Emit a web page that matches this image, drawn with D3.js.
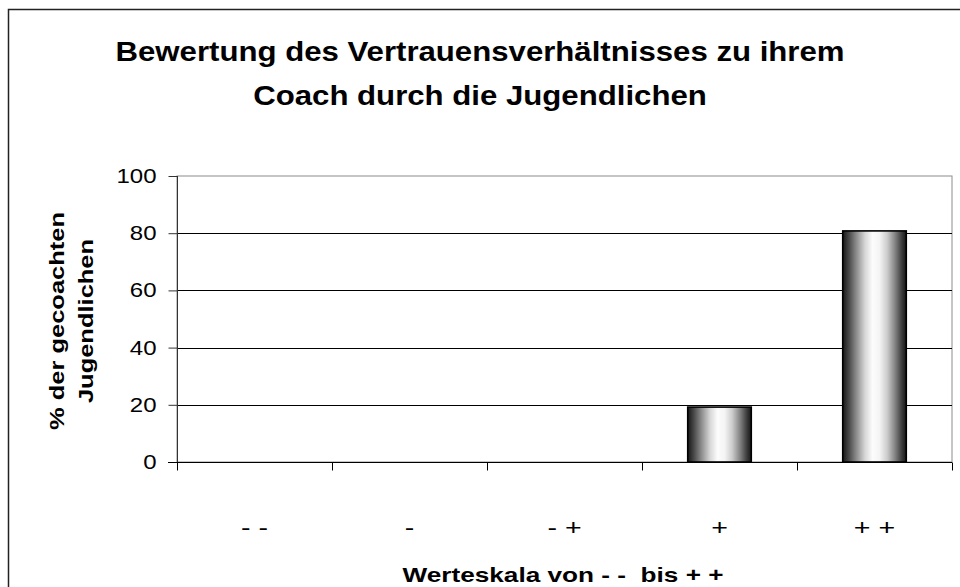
<!DOCTYPE html>
<html>
<head>
<meta charset="utf-8">
<script src="https://cdn.jsdelivr.net/npm/d3@7"></script>
<style>
  body { margin: 0; background: #fff; }
  text { font-family: Arial, "Liberation Sans", sans-serif; fill: #000; }
</style>
</head>
<body>
<div id="chart"></div>
<script>
// categories and values (percent of coached youths)
var categories = ["- -", "-", "- +", "+", "+ +"];
var values = [0, 0, 0, 19.2, 80.8];
var yTicks = [0, 20, 40, 60, 80, 100];
var titleLines = ["Bewertung des Vertrauensverhältnisses zu ihrem", "Coach durch die Jugendlichen"];
var yTitleLines = ["% der gecoachten", "Jugendlichen"];
var xTitle = "Werteskala von - -  bis + +";

var width = 960, height = 587;
var plot = { left: 177, right: 952, top: 176, bottom: 462 };

var svg = d3.select("#chart").append("svg")
    .attr("width", width)
    .attr("height", height);

// widen a text node horizontally around its anchor
function widen(sel, k) {
    sel.each(function() {
        var len = this.getComputedTextLength();
        d3.select(this)
            .attr("textLength", len * k)
            .attr("lengthAdjust", "spacingAndGlyphs");
    });
}

// cylinder-like shading for the bars
var grad = svg.append("defs").append("linearGradient")
    .attr("id", "barGrad")
    .attr("x1", "0%").attr("x2", "100%")
    .attr("y1", "0%").attr("y2", "0%");
[[0, "#161616"], [0.1, "#4a4a4a"], [0.22, "#8f8f8f"], [0.35, "#d6d6d6"], [0.47, "#fcfcfc"],
 [0.58, "#f4f4f4"], [0.7, "#cccccc"], [0.82, "#858585"], [0.93, "#3c3c3c"], [1, "#161616"]]
    .forEach(function(s) {
        grad.append("stop").attr("offset", s[0]).attr("stop-color", s[1]);
    });

// outer chart frame (runs past the window)
svg.append("rect")
    .attr("x", 8.5).attr("y", 9.5)
    .attr("width", 1000).attr("height", 700)
    .attr("fill", "none")
    .attr("stroke", "#222")
    .attr("stroke-width", 1.5);

// title
var title = svg.selectAll(".title")
    .data(titleLines)
    .enter().append("text")
    .attr("class", "title")
    .attr("x", 480)
    .attr("y", function(d, i) { return 61 + i * 44; })
    .attr("text-anchor", "middle")
    .style("font-size", "27px")
    .style("font-weight", "bold")
    .text(function(d) { return d; });
widen(title, 729 / title.node().getComputedTextLength());

var x = d3.scaleBand()
    .domain(categories)
    .range([plot.left, plot.right])
    .padding(0);

var y = d3.scaleLinear()
    .domain([0, 100])
    .range([plot.bottom, plot.top]);

// plot area border
svg.append("rect")
    .attr("x", plot.left).attr("y", plot.top)
    .attr("width", plot.right - plot.left)
    .attr("height", plot.bottom - plot.top)
    .attr("fill", "#fff")
    .attr("stroke", "#8c8c8c")
    .attr("stroke-width", 1);

// gridlines
svg.append("g")
    .selectAll("line")
    .data(yTicks.filter(function(t) { return t > 0 && t < 100; }))
    .enter().append("line")
    .attr("x1", plot.left).attr("x2", plot.right)
    .attr("y1", function(d) { return Math.round(y(d)) + 0.5; })
    .attr("y2", function(d) { return Math.round(y(d)) + 0.5; })
    .attr("stroke", "#000")
    .attr("stroke-width", 1);

// bars
var barW = x.bandwidth() * 0.41;
svg.append("g")
    .selectAll("rect")
    .data(values)
    .enter().append("rect")
    .attr("x", function(d, i) { return x(categories[i]) + (x.bandwidth() - barW) / 2; })
    .attr("y", function(d) { return y(d); })
    .attr("width", barW)
    .attr("height", function(d) { return y(0) - y(d); })
    .attr("fill", "url(#barGrad)")
    .attr("stroke", "#000")
    .attr("stroke-width", 1.6);

// y axis
var yAxis = d3.axisLeft(y)
    .tickValues(yTicks)
    .tickSize(9)
    .tickPadding(12)
    .tickFormat(d3.format("d"));

var gy = svg.append("g")
    .attr("transform", "translate(" + (plot.left + 0.5) + ",0)")
    .call(yAxis);
gy.selectAll("line, path").attr("stroke", "#333");
gy.select(".domain").attr("d", "M0," + plot.top + "V" + plot.bottom);
gy.selectAll("text")
    .style("font-size", "20px")
    .style("font-family", "Arial, 'Liberation Sans', sans-serif");
widen(gy.selectAll("text"), 1.2);

// x axis, ticks sit on category boundaries
var xAxis = d3.axisBottom(x)
    .tickSize(0)
    .tickPadding(57);

var gx = svg.append("g")
    .attr("transform", "translate(0," + (plot.bottom + 0.5) + ")")
    .call(xAxis);
gx.select(".domain").attr("stroke", "#000").attr("d", "M" + (plot.left - 9) + ",0H" + plot.right);
gx.selectAll("text")
    .style("font-size", "22px")
    .style("white-space", "pre")
    .style("font-family", "Arial, 'Liberation Sans', sans-serif");
widen(gx.selectAll("text"), 1.3);

var bounds = categories.map(function(c) { return x(c); }).concat([plot.right]);
gx.append("g")
    .selectAll("line")
    .data(bounds)
    .enter().append("line")
    .attr("x1", function(d) { return Math.round(d) + 0.5; })
    .attr("x2", function(d) { return Math.round(d) + 0.5; })
    .attr("y1", 0).attr("y2", 8)
    .attr("stroke", "#000");

// axis titles
var xt = svg.append("text")
    .attr("x", 563)
    .attr("y", 582)
    .attr("text-anchor", "middle")
    .style("font-size", "21px")
    .style("font-weight", "bold")
    .style("white-space", "pre")
    .text(xTitle);
widen(xt, 321 / xt.node().getComputedTextLength());

var yt = svg.selectAll(".ytitle")
    .data(yTitleLines)
    .enter().append("text")
    .attr("class", "ytitle")
    .attr("transform", "rotate(-90)")
    .attr("x", -321)
    .attr("y", function(d, i) { return 64 + i * 29; })
    .attr("text-anchor", "middle")
    .style("font-size", "20px")
    .style("font-weight", "bold")
    .text(function(d) { return d; });
widen(yt, 218 / yt.node().getComputedTextLength());
</script>
</body>
</html>
